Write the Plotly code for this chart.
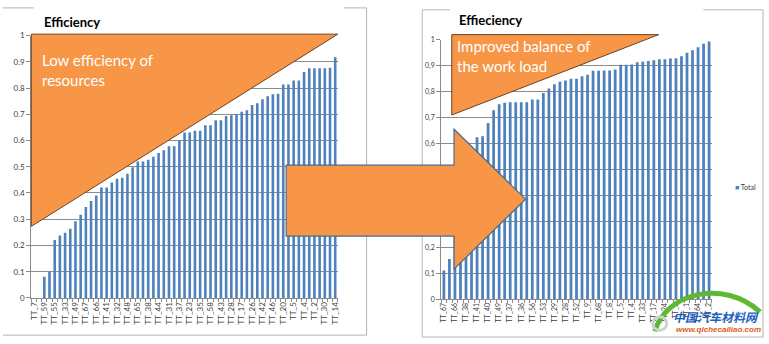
import plotly.graph_objects as go

W, H = 769, 344

# ---------------- data ----------------
left_tick_labels = ["TT_7", "TT_59", "TT_55", "TT_33", "TT_49", "TT_67", "TT_66", "TT_41",
                    "TT_32", "TT_48", "TT_65", "TT_38", "TT_44", "TT_31", "TT_37", "TT_23",
                    "TT_35", "TT_58", "TT_43", "TT_28", "TT_17", "TT_26", "TT_42", "TT_46",
                    "TT_20", "TT_5", "TT_4", "TT_2", "TT_30", "TT_14"]
left_values = [0, 0, 0.081, 0.10, 0.221, 0.238, 0.248, 0.264, 0.292, 0.317,
               0.347, 0.369, 0.39, 0.421, 0.421, 0.44, 0.454, 0.458, 0.473, 0.498,
               0.52, 0.52, 0.527, 0.538, 0.552, 0.563, 0.578, 0.578, 0.602, 0.631,
               0.631, 0.637, 0.637, 0.658, 0.658, 0.677, 0.677, 0.693, 0.696, 0.70,
               0.71, 0.715, 0.735, 0.742, 0.757, 0.769, 0.776, 0.778, 0.814, 0.814,
               0.829, 0.829, 0.861, 0.875, 0.875, 0.875, 0.875, 0.877, 0.917]

right_tick_labels = ["TT_67", "TT_66", "TT_38", "TT_41", "TT_40", "TT_49", "TT_37", "TT_36",
                     "TT_56", "TT_53", "TT_29", "TT_28", "TT_52", "TT_9", "TT_68", "TT_8",
                     "TT_5", "TT_4", "TT_33", "TT_17", "TT_24", "TT_3", "TT_1", "TT_64", "TT_2"]
right_values = [0.111, 0.155, 0.25, 0.35, 0.45, 0.55, 0.625, 0.629, 0.68, 0.729,
                0.752, 0.758, 0.76, 0.76, 0.76, 0.76, 0.77, 0.77, 0.795, 0.813,
                0.829, 0.839, 0.844, 0.85, 0.85, 0.86, 0.866, 0.881, 0.881, 0.882,
                0.882, 0.886, 0.904, 0.904, 0.905, 0.914, 0.916, 0.919, 0.922, 0.926,
                0.926, 0.928, 0.929, 0.937, 0.951, 0.96, 0.972, 0.985, 0.994]

y_ticks = [0, 0.1, 0.2, 0.3, 0.4, 0.5, 0.6, 0.7, 0.8, 0.9, 1]
left_y_text = ["0", "0.1", "0.2", "0.3", "0.4", "0.5", "0.6", "0.7", "0.8", "0.9", "1"]
right_y_text = ["0", "0,1", "0,2", "0,3", "0,4", "0,5", "0,6", "0,7", "0,8", "0,9", "1"]

series_name = "Total"
title_left = "Efficiency"
title_right = "Effieciency"
note_left = "Low efficiency of<br>resources"
note_right = "Improved balance of<br>the work load"

BAR = "#4F81BD"
ORANGE = "#F79646"
GRID = "#8c8c8c"
FONT = "Lato"


def px(x):
    return x / W


def py(y):
    return 1 - y / H


def path(points):
    s = "M " + " L ".join(f"{px(x):.5f},{py(y):.5f}" for x, y in points) + " Z"
    return s


lx = list(range(len(left_values)))
rx = list(range(len(right_values)))

fig = go.Figure()
fig.add_trace(go.Bar(x=lx, y=left_values, marker=dict(color=BAR, line=dict(width=0)),
                     width=0.5, xaxis="x", yaxis="y", showlegend=False, name=series_name))
fig.add_trace(go.Bar(x=rx, y=right_values, marker=dict(color=BAR, line=dict(width=0)),
                     width=0.5, xaxis="x2", yaxis="y2", showlegend=False, name=series_name))

axis_common = dict(showline=True, linecolor=GRID, linewidth=1, zeroline=False)

fig.update_layout(
    width=W, height=H, margin=dict(l=0, r=0, t=0, b=0),
    paper_bgcolor="white", plot_bgcolor="white",
    font=dict(family=FONT, color="#404040"),
    bargap=0.5,
    xaxis=dict(domain=[px(28.5), px(337)], range=[-0.5, len(left_values) - 0.5],
               tickmode="array", tickvals=lx[::2], ticktext=left_tick_labels,
               tickangle=-90, tickfont=dict(size=8), ticks="", showgrid=False,
               minor=dict(ticks="outside", tickvals=[i - 0.5 for i in range(len(left_values) + 1)],
                          ticklen=3, tickcolor=GRID, showgrid=False),
               anchor="y", **axis_common),
    yaxis=dict(domain=[py(301.7), py(31.5)], range=[0, 1], tickmode="array",
               tickvals=y_ticks, ticktext=left_y_text, tickfont=dict(size=8),
               ticks="outside", ticklen=4, tickcolor=GRID, showgrid=True,
               gridcolor=GRID, gridwidth=1, anchor="x", **axis_common),
    xaxis2=dict(domain=[px(441), px(713.5)], range=[-0.5, len(right_values) - 0.5],
                tickmode="array", tickvals=rx[::2], ticktext=right_tick_labels,
                tickangle=-90, tickfont=dict(size=7), ticks="", showgrid=False,
                minor=dict(ticks="outside", tickvals=[i - 0.5 for i in range(len(right_values) + 1)],
                           ticklen=3, tickcolor=GRID, showgrid=False),
                anchor="y2", **axis_common),
    yaxis2=dict(domain=[py(303), py(36)], range=[0, 1], tickmode="array",
                tickvals=y_ticks, ticktext=right_y_text, tickfont=dict(size=7),
                ticks="outside", ticklen=4, tickcolor=GRID, showgrid=True,
                gridcolor=GRID, gridwidth=1, anchor="x2", **axis_common),
)

BORDER = "#b4b4b4"
shapes = []
# chart borders (top edge interrupted by title boxes)
for (x0, y0, x1, y1) in [(0, 3, 31, 3), (343, 3, 366, 3), (366, 3, 366, 340), (0, 340, 366, 340),
                         (422, 5, 422, 342), (422, 5, 450, 5), (705, 5, 765, 5),
                         (765, 5, 765, 342), (422, 342, 765, 342)]:
    shapes.append(dict(type="line", xref="paper", yref="paper", x0=px(x0), y0=py(y0),
                       x1=px(x1), y1=py(y1), line=dict(color=BORDER, width=1), layer="below"))

# orange triangles
shapes.append(dict(type="path", xref="paper", yref="paper",
                   path=path([(28.5, 30), (337, 30), (28.5, 228)]),
                   fillcolor=ORANGE, line=dict(color="#6e4322", width=1), layer="above"))
shapes.append(dict(type="path", xref="paper", yref="paper",
                   path=path([(451.7, 30.5), (660, 30.5), (451.7, 113.3)]),
                   fillcolor=ORANGE, line=dict(color="#6e4322", width=1), layer="above"))
# block arrow
shapes.append(dict(type="path", xref="paper", yref="paper",
                   path=path([(285, 165), (454, 165), (454, 128), (526, 200),
                              (454, 272), (454, 238), (285, 238)]),
                   fillcolor=ORANGE, line=dict(color="#4a6a8c", width=1.2), layer="above"))
# watermark swoosh
shapes.append(dict(type="path", xref="paper", yref="paper",
                   path=(f"M {px(656):.5f},{py(336):.5f} C {px(668):.5f},{py(296):.5f} "
                         f"{px(725):.5f},{py(282):.5f} {px(762):.5f},{py(316):.5f}"),
                   line=dict(color="#5fb832", width=5), layer="above"))
shapes.append(dict(type="circle", xref="paper", yref="paper",
                   x0=px(654), x1=px(668), y0=py(335), y1=py(321),
                   line=dict(color="#d0d0d0", width=3), fillcolor="rgba(255,255,255,0)",
                   layer="above"))

annotations = [
    dict(text=f"<b>{title_left}</b>", x=px(39), y=py(17), xref="paper", yref="paper",
         xanchor="left", yanchor="middle", showarrow=False,
         font=dict(family=FONT, size=13, color="#000000")),
    dict(text=f"<b>{title_right}</b>", x=px(457), y=py(15), xref="paper", yref="paper",
         xanchor="left", yanchor="middle", showarrow=False,
         font=dict(family=FONT, size=13, color="#000000")),
    dict(text=note_left, x=px(37), y=py(66.5), xref="paper", yref="paper",
         xanchor="left", yanchor="middle", align="left", showarrow=False,
         font=dict(family=FONT, size=15, color="white")),
    dict(text=note_right, x=px(455), y=py(52.2), xref="paper", yref="paper",
         xanchor="left", yanchor="middle", align="left", showarrow=False,
         font=dict(family=FONT, size=15, color="white")),
    dict(text=f'<span style="color:{BAR}">■</span> {series_name}', x=px(735), y=py(187),
         xref="paper", yref="paper", xanchor="left", yanchor="middle", showarrow=False,
         font=dict(family=FONT, size=7, color="#404040")),
    dict(text="<b><i>中国汽车材料网</i></b>", x=px(718), y=py(321), xref="paper", yref="paper",
         xanchor="center", yanchor="middle", showarrow=False,
         font=dict(family="Noto Sans CJK SC", size=12, color="#1f5fbf")),
    dict(text="<b><i>www.qichecailiao.com</i></b>", x=px(720), y=py(334), xref="paper",
         yref="paper", xanchor="center", yanchor="middle", showarrow=False,
         font=dict(family="Liberation Sans", size=8, color="#e05a1e")),
]

fig.update_layout(shapes=shapes, annotations=annotations)
fig.write_html("out.html")
